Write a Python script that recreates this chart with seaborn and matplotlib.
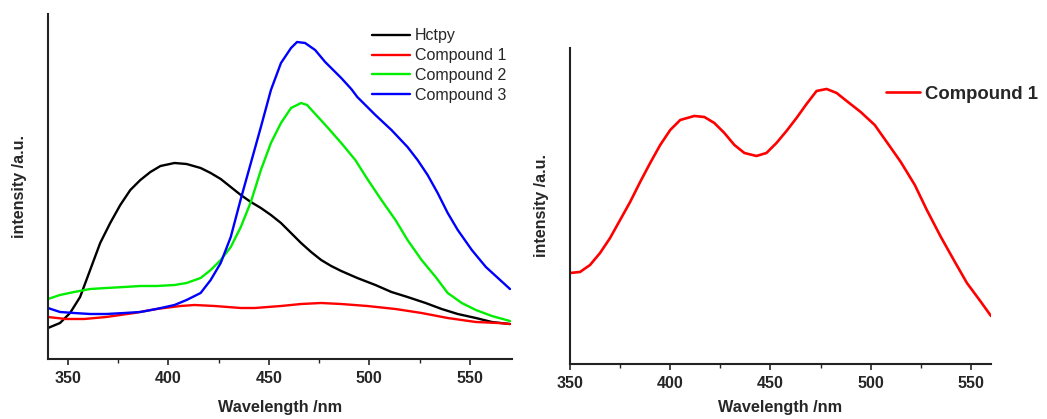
import pandas as pd
import seaborn as sns
import matplotlib
import matplotlib.pyplot as plt
from matplotlib.ticker import MultipleLocator

matplotlib.use('Agg')

# left panel: emission spectra (arbitrary intensity units)
hctpy_x = [340, 346, 351, 356, 361, 366, 371, 376, 381, 386, 391, 396, 403, 409, 416,
           421, 426, 431, 436, 441, 446, 451, 456, 461, 466, 471, 476, 481, 486, 494,
           503, 511, 519, 528, 536, 544, 553, 561, 570]
hctpy_y = [31, 36, 46, 62, 89, 116, 136, 154, 169, 179, 187, 193, 196, 195, 191,
           186, 180, 172, 164, 157, 151, 144, 136, 126, 116, 107, 99, 93, 88, 81,
           74, 67, 62, 56, 50, 45, 41, 37, 35]

comp1_x = [340, 349, 358, 369, 383, 394, 406, 413, 423, 436, 443, 456, 466, 476, 486,
           499, 513, 526, 539, 553, 564, 570]
comp1_y = [42, 40, 40, 42, 46, 50, 53, 54, 53, 51, 51, 53, 55, 56, 55,
           53, 50, 46, 41, 37, 36, 35]

comp2_x = [340, 346, 353, 361, 369, 378, 386, 394, 403, 409, 416, 421, 426, 431, 436,
           441, 446, 451, 456, 461, 466, 469, 474, 479, 486, 493, 499, 506, 513, 519,
           526, 533, 539, 546, 553, 561, 570]
comp2_y = [60, 64, 67, 70, 71, 72, 73, 73, 74, 76, 81, 89, 99, 112, 132,
           157, 189, 216, 236, 251, 256, 254, 243, 232, 216, 199, 180, 159, 139, 119,
           99, 82, 66, 56, 49, 43, 38]

comp3_x = [340, 346, 353, 361, 369, 378, 386, 394, 403, 409, 416, 421, 426, 431, 436,
           441, 446, 451, 456, 461, 464, 468, 473, 478, 483, 486, 491, 494, 503, 511,
           519, 524, 529, 534, 539, 544, 551, 558, 564, 570]
comp3_y = [51, 47, 46, 45, 45, 46, 47, 50, 54, 59, 66, 79, 96, 122, 160,
           196, 232, 269, 296, 311, 317, 316, 309, 297, 287, 281, 270, 262, 244, 229,
           212, 199, 184, 166, 146, 129, 109, 92, 81, 70]

# right panel: compound 1 alone
c1_x = [350, 355, 360, 365, 370, 375, 380, 385, 390, 395, 400, 405, 412, 417, 422,
        427, 432, 437, 443, 448, 453, 458, 463, 468, 473, 478, 483, 488, 495, 502,
        508, 515, 522, 528, 535, 542, 548, 555, 560]
c1_y = [91, 92, 99, 111, 126, 144, 162, 182, 201, 219, 234, 244, 248, 247, 241,
        231, 219, 211, 208, 211, 221, 233, 246, 260, 273, 275, 271, 263, 252, 239,
        222, 202, 179, 154, 127, 102, 81, 62, 48]

sns.set_style("ticks")
plt.rcParams['font.family'] = ['Liberation Sans', 'DejaVu Sans']

fig = plt.figure(figsize=(10.47, 4.19), dpi=100)
ax1 = fig.add_axes([0.0458, 0.1432, 0.4432, 0.8234])
ax2 = fig.add_axes([0.5444, 0.1313, 0.4021, 0.7542])

series = [("Hctpy", hctpy_x, hctpy_y, "black"),
          ("Compound 1", comp1_x, comp1_y, "#ff0000"),
          ("Compound 2", comp2_x, comp2_y, "#00ee00"),
          ("Compound 3", comp3_x, comp3_y, "#0000ff")]
for name, xs, ys, col in series:
    sns.lineplot(x=xs, y=ys, ax=ax1, color=col, linewidth=1.7, label=name)

sns.lineplot(x=c1_x, y=c1_y, ax=ax2, color="#ff0000", linewidth=1.9, label="Compound 1")

ax1.set_xlim(340, 571)
ax1.set_ylim(0, 345)
ax2.set_xlim(350, 560)
ax2.set_ylim(0, 316)

for ax, lp in ((ax1, 10), (ax2, 6.5)):
    sns.despine(ax=ax)
    ax.spines['left'].set_linewidth(1.5)
    ax.spines['bottom'].set_linewidth(1.5)
    ax.spines['left'].set_color('#222222')
    ax.spines['bottom'].set_color('#222222')
    ax.set_yticks([])
    ax.xaxis.set_major_locator(MultipleLocator(50))
    ax.xaxis.set_minor_locator(MultipleLocator(25))
    ax.tick_params(axis='x', which='major', direction='out', length=4.5, width=1.2,
                   labelsize=11.5, pad=4)
    ax.tick_params(axis='x', which='minor', direction='out', length=3, width=1.0)
    for lbl in ax.get_xticklabels():
        lbl.set_fontweight('bold')
    ax.set_xlabel("Wavelength /nm", fontsize=11.7, fontweight='bold', labelpad=lp)
    ax.set_ylabel("intensity /a.u.", fontsize=11.5, fontweight='bold', labelpad=15)

ax1.legend(loc='upper left', bbox_to_anchor=(0.698, 0.958), frameon=False, fontsize=11.5,
           handlelength=2.4, handletextpad=0.3, labelspacing=0.3,
           borderpad=0, borderaxespad=0)
leg2 = ax2.legend(loc='upper left', bbox_to_anchor=(0.751, 0.88), frameon=False,
                  fontsize=13.3, handlelength=1.85, handletextpad=0.27,
                  borderpad=0, borderaxespad=0)
for t in leg2.get_texts():
    t.set_fontweight('bold')

fig.savefig("out.png", dpi=100)
